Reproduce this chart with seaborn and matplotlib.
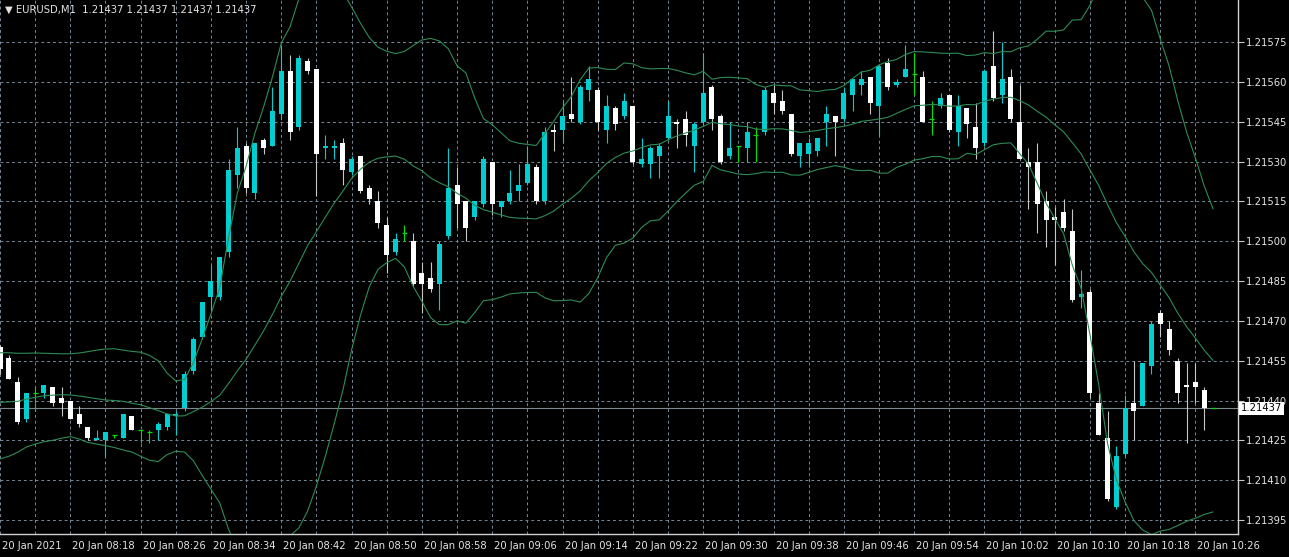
import numpy as np
import pandas as pd
import matplotlib
matplotlib.use("Agg")
import matplotlib.pyplot as plt
import matplotlib.transforms as mtransforms
import seaborn as sns

# EURUSD M1, 20 Jan 2021 08:10 -> 10:28, one bar per minute
opens = [1.21460, 1.21456, 1.21447, 1.21433, 1.21443, 1.21443, 1.21445, 1.21441, 1.21440, 1.21435,
         1.21430, 1.21425, 1.21425, 1.21427, 1.21426, 1.21434, 1.21429, 1.21428, 1.21429, 1.21430,
         1.21434, 1.21437, 1.21451, 1.21464, 1.21479, 1.21479, 1.21496, 1.21525, 1.21536, 1.21518,
         1.21538, 1.21536, 1.21548, 1.21564, 1.21543, 1.21568, 1.21565, 1.21535, 1.21535, 1.21537,
         1.21526, 1.21532, 1.21520, 1.21515, 1.21506, 1.21496, 1.21503, 1.21500, 1.21488, 1.21486,
         1.21484, 1.21502, 1.21521, 1.21515, 1.21509, 1.21514, 1.21530, 1.21513, 1.21515, 1.21519,
         1.21522, 1.21528, 1.21515, 1.21542, 1.21542, 1.21548, 1.21545, 1.21557, 1.21557, 1.21542,
         1.21550, 1.21547, 1.21551, 1.21529, 1.21529, 1.21532, 1.21539, 1.21545, 1.21546, 1.21536,
         1.21545, 1.21558, 1.21547, 1.21532, 1.21536, 1.21535, 1.21540, 1.21541, 1.21556, 1.21553,
         1.21548, 1.21532, 1.21533, 1.21534, 1.21545, 1.21547, 1.21546, 1.21555, 1.21559, 1.21562,
         1.21551, 1.21567, 1.21559, 1.21562, 1.21563, 1.21562, 1.21546, 1.21551, 1.21555, 1.21541,
         1.21550, 1.21543, 1.21537, 1.21566, 1.21555, 1.21562, 1.21545, 1.21530, 1.21530, 1.21515,
         1.21509, 1.21511, 1.21504, 1.21479, 1.21481, 1.21439, 1.21426, 1.21400, 1.21420, 1.21439,
         1.21438, 1.21453, 1.21473, 1.21467, 1.21455, 1.21446, 1.21447, 1.21444, 1.21437]
highs = [1.21461, 1.21457, 1.21449, 1.21443, 1.21445, 1.21446, 1.21445, 1.21445, 1.21440, 1.21438,
         1.21430, 1.21429, 1.21428, 1.21427, 1.21435, 1.21434, 1.21429, 1.21429, 1.21432, 1.21435,
         1.21436, 1.21451, 1.21464, 1.21477, 1.21491, 1.21494, 1.21531, 1.21543, 1.21537, 1.21537,
         1.21539, 1.21558, 1.21574, 1.21570, 1.21570, 1.21569, 1.21565, 1.21540, 1.21538, 1.21539,
         1.21532, 1.21532, 1.21521, 1.21519, 1.21509, 1.21503, 1.21506, 1.21503, 1.21492, 1.21492,
         1.21500, 1.21535, 1.21528, 1.21515, 1.21515, 1.21532, 1.21530, 1.21515, 1.21527, 1.21529,
         1.21536, 1.21529, 1.21543, 1.21544, 1.21553, 1.21562, 1.21559, 1.21566, 1.21558, 1.21555,
         1.21551, 1.21556, 1.21551, 1.21539, 1.21536, 1.21537, 1.21553, 1.21546, 1.21549, 1.21545,
         1.21571, 1.21559, 1.21548, 1.21545, 1.21536, 1.21545, 1.21543, 1.21558, 1.21559, 1.21557,
         1.21548, 1.21537, 1.21539, 1.21539, 1.21551, 1.21547, 1.21558, 1.21561, 1.21564, 1.21562,
         1.21566, 1.21569, 1.21561, 1.21574, 1.21571, 1.21564, 1.21553, 1.21556, 1.21555, 1.21555,
         1.21550, 1.21552, 1.21565, 1.21579, 1.21575, 1.21565, 1.21559, 1.21535, 1.21537, 1.21519,
         1.21513, 1.21516, 1.21512, 1.21489, 1.21482, 1.21443, 1.21436, 1.21423, 1.21442, 1.21455,
         1.21454, 1.21470, 1.21474, 1.21470, 1.21456, 1.21454, 1.21454, 1.21445, 1.21437]
lows = [1.21450, 1.21448, 1.21431, 1.21432, 1.21436, 1.21441, 1.21438, 1.21434, 1.21433, 1.21430,
        1.21425, 1.21425, 1.21419, 1.21426, 1.21426, 1.21429, 1.21424, 1.21424, 1.21425, 1.21429,
        1.21427, 1.21436, 1.21450, 1.21463, 1.21474, 1.21478, 1.21494, 1.21520, 1.21518, 1.21516,
        1.21533, 1.21536, 1.21546, 1.21538, 1.21542, 1.21563, 1.21517, 1.21531, 1.21531, 1.21521,
        1.21525, 1.21518, 1.21514, 1.21505, 1.21488, 1.21495, 1.21500, 1.21483, 1.21473, 1.21481,
        1.21474, 1.21501, 1.21505, 1.21500, 1.21508, 1.21513, 1.21510, 1.21509, 1.21514, 1.21515,
        1.21521, 1.21514, 1.21514, 1.21534, 1.21537, 1.21545, 1.21544, 1.21553, 1.21542, 1.21537,
        1.21542, 1.21546, 1.21529, 1.21528, 1.21524, 1.21524, 1.21538, 1.21535, 1.21536, 1.21526,
        1.21544, 1.21542, 1.21529, 1.21531, 1.21530, 1.21530, 1.21530, 1.21540, 1.21548, 1.21548,
        1.21532, 1.21528, 1.21528, 1.21532, 1.21536, 1.21532, 1.21545, 1.21549, 1.21555, 1.21548,
        1.21540, 1.21557, 1.21558, 1.21562, 1.21555, 1.21545, 1.21540, 1.21550, 1.21541, 1.21536,
        1.21539, 1.21531, 1.21536, 1.21553, 1.21552, 1.21545, 1.21531, 1.21512, 1.21503, 1.21498,
        1.21491, 1.21504, 1.21477, 1.21475, 1.21441, 1.21427, 1.21402, 1.21399, 1.21419, 1.21425,
        1.21438, 1.21450, 1.21464, 1.21457, 1.21439, 1.21424, 1.21439, 1.21429, 1.21437]
closes = [1.21452, 1.21448, 1.21432, 1.21443, 1.21443, 1.21446, 1.21439, 1.21439, 1.21433, 1.21431,
          1.21426, 1.21426, 1.21428, 1.21427, 1.21435, 1.21429, 1.21429, 1.21428, 1.21431, 1.21435,
          1.21435, 1.21450, 1.21463, 1.21477, 1.21485, 1.21494, 1.21527, 1.21535, 1.21520, 1.21537,
          1.21535, 1.21549, 1.21564, 1.21541, 1.21569, 1.21564, 1.21533, 1.21536, 1.21536, 1.21527,
          1.21531, 1.21519, 1.21516, 1.21507, 1.21495, 1.21501, 1.21503, 1.21484, 1.21484, 1.21482,
          1.21499, 1.21520, 1.21514, 1.21505, 1.21515, 1.21531, 1.21514, 1.21515, 1.21518, 1.21521,
          1.21529, 1.21515, 1.21541, 1.21541, 1.21547, 1.21546, 1.21558, 1.21561, 1.21545, 1.21551,
          1.21544, 1.21553, 1.21530, 1.21531, 1.21535, 1.21536, 1.21547, 1.21544, 1.21540, 1.21544,
          1.21556, 1.21546, 1.21530, 1.21535, 1.21536, 1.21541, 1.21540, 1.21557, 1.21552, 1.21549,
          1.21533, 1.21537, 1.21537, 1.21539, 1.21548, 1.21545, 1.21556, 1.21561, 1.21561, 1.21552,
          1.21566, 1.21558, 1.21560, 1.21565, 1.21563, 1.21545, 1.21546, 1.21554, 1.21542, 1.21551,
          1.21544, 1.21535, 1.21564, 1.21554, 1.21561, 1.21546, 1.21531, 1.21528, 1.21514, 1.21508,
          1.21508, 1.21505, 1.21478, 1.21480, 1.21443, 1.21427, 1.21403, 1.21419, 1.21437, 1.21436,
          1.21454, 1.21469, 1.21469, 1.21459, 1.21443, 1.21445, 1.21445, 1.21437, 1.21437]

# Bollinger(20, 2) values of the first 19 bars (their history is off-screen)
upper_head = [1.214580, 1.214580, 1.214578, 1.214578, 1.214579, 1.214578, 1.214577, 1.214576,
              1.214576, 1.214579, 1.214584, 1.214590, 1.214594, 1.214595, 1.214590, 1.214585,
              1.214582, 1.214570, 1.214550]
mid_head = [1.214393, 1.214395, 1.214397, 1.214405, 1.214412, 1.214418, 1.214420, 1.214422,
            1.214421, 1.214417, 1.214412, 1.214407, 1.214402, 1.214400, 1.214397, 1.214390,
            1.214384, 1.214373, 1.214362]
lower_head = [1.214180, 1.214190, 1.214205, 1.214225, 1.214236, 1.214245, 1.214250, 1.214258,
              1.214264, 1.214255, 1.214242, 1.214236, 1.214230, 1.214223, 1.214214, 1.214206,
              1.214190, 1.214175, 1.214170]

time_labels = ["20 Jan 2021", "20 Jan 08:18", "20 Jan 08:26", "20 Jan 08:34", "20 Jan 08:42",
               "20 Jan 08:50", "20 Jan 08:58", "20 Jan 09:06", "20 Jan 09:14", "20 Jan 09:22",
               "20 Jan 09:30", "20 Jan 09:38", "20 Jan 09:46", "20 Jan 09:54", "20 Jan 10:02",
               "20 Jan 10:10", "20 Jan 10:18", "20 Jan 10:26"]
price_levels = [1.21395, 1.21410, 1.21425, 1.21440, 1.21455, 1.21470, 1.21485,
                1.21500, 1.21515, 1.21530, 1.21545, 1.21560, 1.21575]
bid = 1.21437

df = pd.DataFrame({"open": opens, "high": highs, "low": lows, "close": closes})
df["bar"] = np.arange(len(df))

# bands from closes, head filled with read values
mid = df["close"].rolling(20).mean()
sd = df["close"].rolling(20).std(ddof=0)
df["upper"] = mid + 2 * sd
df["mid"] = mid
df["lower"] = mid - 2 * sd
n0 = len(mid_head)
df.loc[:n0 - 1, "upper"] = upper_head
df.loc[:n0 - 1, "mid"] = mid_head
df.loc[:n0 - 1, "lower"] = lower_head

BULL = "#00CED1"
BEAR = "#FFFFFF"
BEAR_WICK = "#C8C8C8"
DOJI = "#00E000"
BAND = "#2E8B57"
GRID = "#778899"
FG = "#E4E4E4"

sns.set_theme(style="dark", rc={"axes.facecolor": "black", "figure.facecolor": "black"})
plt.rcParams["font.family"] = ["DejaVu Sans"]

W, H = 1289, 557
fig = plt.figure(figsize=(W / 100, H / 100), dpi=100)
ax = fig.add_axes([0, 1 - 534 / H, 1238 / W, 534 / H])
ax.set_facecolor("black")

px = 1 / 8.79  # one pixel in bar units
bw = 5 * px
min_h = 0.4e-5

up = df[df.close > df.open]
dn = df[df.close < df.open]
dj = df[df.close == df.open]

# wicks
ax.vlines(up.bar, up.low, up.high, colors=BULL, lw=0.8, zorder=2)
ax.vlines(dn.bar, dn.low, dn.high, colors=BEAR_WICK, lw=0.8, zorder=2)
ax.vlines(dj.bar, dj.low, dj.high, colors=DOJI, lw=0.8, zorder=2)
# bodies
ax.bar(up.bar, np.maximum(up.close - up.open, min_h), bottom=up.open, width=bw,
       color=BULL, linewidth=0, zorder=3)
ax.bar(dn.bar, np.maximum(dn.open - dn.close, min_h), bottom=dn.close, width=bw,
       color=BEAR, linewidth=0, zorder=3)
ax.hlines(dj.close, dj.bar - bw / 2, dj.bar + bw / 2, colors=DOJI, lw=0.9, zorder=3)

# Bollinger bands
for col in ["upper", "mid", "lower"]:
    sns.lineplot(data=df, x="bar", y=col, ax=ax, color=BAND, lw=0.8, zorder=4)

# bid line
ax.axhline(bid, color="#7D8790", lw=0.8, zorder=1.5)

ax.set_xlim(0, 1238 * px)
ax.set_ylim(1.21395 - 14 / 2.655 * 1e-5, 1.21395 + 520 / 2.655 * 1e-5)

# grid
ax.set_xticks(np.arange(0, len(df), 4), minor=True)
ax.set_xticks(np.arange(0, len(df), 8)[:len(time_labels)], labels=time_labels)
ax.set_yticks(price_levels, labels=[f"{p:.5f}" for p in price_levels])
ax.grid(True, which="both", axis="x", color=GRID, lw=0.7, ls=(0, (3, 3)), zorder=1)
ax.grid(True, which="major", axis="y", color=GRID, lw=0.7, ls=(0, (3, 3)), zorder=1)

ax.yaxis.tick_right()
ax.tick_params(axis="y", which="major", direction="out", length=4, width=0.8,
               color="#C8C8C8", labelcolor=FG, labelsize=7.2, pad=2)
ax.tick_params(axis="x", which="major", direction="out", length=4, width=0.8,
               color="#C8C8C8", labelcolor=FG, labelsize=7.2, pad=1)
ax.tick_params(axis="x", which="minor", length=0)
shift = mtransforms.ScaledTranslation(2 / 100, 0, fig.dpi_scale_trans)
for t in ax.get_xticklabels():
    t.set_horizontalalignment("left")
    t.set_transform(t.get_transform() + shift)
ax.set_xlabel("")
ax.set_ylabel("")

for s in ["top", "left"]:
    ax.spines[s].set_visible(False)
for s in ["bottom", "right"]:
    ax.spines[s].set_color("#D0D0D0")
    ax.spines[s].set_linewidth(1)

# current price tag
ax.annotate(f"{bid:.5f}", xy=(1, bid), xycoords=("axes fraction", "data"),
            xytext=(2, 0), textcoords="offset points", ha="left", va="center",
            fontsize=7.2, color="black", annotation_clip=False, zorder=10,
            bbox=dict(boxstyle="square,pad=0.15", fc="white", ec="none"))

fig.text(5 / W, 1 - 10 / H, "\u25bc EURUSD,M1  " + " ".join([f"{bid:.5f}"] * 4),
         color=FG, fontsize=7.2, va="center", ha="left")

fig.savefig("out.png", dpi=100, facecolor="black")
